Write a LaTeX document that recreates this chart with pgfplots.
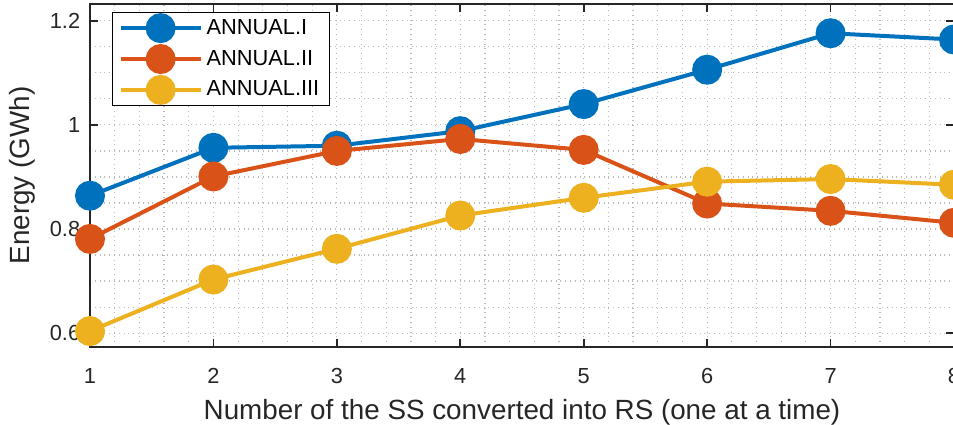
\documentclass[border=0pt]{standalone}
\usepackage{pgfplots}
\pgfplotsset{compat=1.18}
\usepackage{fontspec}
\setmainfont{Liberation Sans}

\definecolor{c1}{rgb}{0,0.447,0.741}
\definecolor{c2}{rgb}{0.850,0.325,0.098}
\definecolor{c3}{rgb}{0.929,0.694,0.125}
\definecolor{axgray}{rgb}{0.15,0.15,0.15}

\begin{document}
\begin{tikzpicture}
\begin{axis}[
  scale only axis, width=432pt, height=171.3pt,
  xmin=1, xmax=8, ymin=0.574, ymax=1.232,
  xtick={1,2,3,4,5,6,7,8},
  ytick={0.6,0.8,1,1.2}, yticklabels={0.6,0.8,1,1.2},
  minor x tick num=4, minor y tick num=3,
  tick align=inside, major tick length=4pt, minor tick length=0pt,
  grid=both,
  major grid style={dotted, gray!55, line width=0.6pt},
  minor grid style={dotted, gray!55, line width=0.6pt},
  axis line style={axgray, line width=0.8pt},
  tick style={axgray, line width=0.8pt},
  /pgf/number format/assume math mode=true,
  ticklabel style={font=\fontsize{10.9}{13}\selectfont, text=axgray},
  xticklabel style={yshift=-7.2pt},
  yticklabel style={xshift=-1.4pt},
  xlabel={Number of the SS converted into RS (one at a time)},
  xlabel style={at={(axis description cs:0.5,0)}, anchor=base, yshift=-36.3pt,
    font=\fontsize{13.9}{16}\selectfont, text=axgray},
  ylabel={Energy (GWh)},
  ylabel style={at={(axis description cs:-0.07025,0.5)}, anchor=base, rotate=0,
    font=\fontsize{13.9}{16}\selectfont, text=axgray},
  clip=false,
  legend cell align=left,
  legend style={at={(rel axis cs:0.0255,0.9766)}, anchor=north west,
    draw=black, line width=0.6pt, fill=white,
    font=\fontsize{10.9}{13}\selectfont, row sep=2.45pt,
    inner xsep=3pt, inner ysep=1.2pt},
  legend image code/.code={%
    \draw[mark repeat=2, mark phase=2, #1]
      plot coordinates {(0pt,0pt) (20pt,0pt) (40pt,0pt)};},
  every axis plot/.append style={line width=2pt, mark=*, mark size=6.5pt},
]
\addplot[c1, mark options={solid, fill=c1, draw=c1}] coordinates {
  (1,0.864) (2,0.956) (3,0.960) (4,0.988) (5,1.040) (6,1.106) (7,1.176) (8,1.164)};
\addlegendentry{ANNUAL.I}
\addplot[c2, mark options={solid, fill=c2, draw=c2}] coordinates {
  (1,0.781) (2,0.901) (3,0.950) (4,0.973) (5,0.952) (6,0.849) (7,0.835) (8,0.812)};
\addlegendentry{ANNUAL.II}
\addplot[c3, mark options={solid, fill=c3, draw=c3}] coordinates {
  (1,0.604) (2,0.703) (3,0.762) (4,0.826) (5,0.860) (6,0.891) (7,0.896) (8,0.885)};
\addlegendentry{ANNUAL.III}
\end{axis}
\pgfresetboundingbox
\path[use as bounding box] (-45pt,-38.65pt) rectangle (431.5pt,173.35pt);
\end{tikzpicture}
\end{document}
